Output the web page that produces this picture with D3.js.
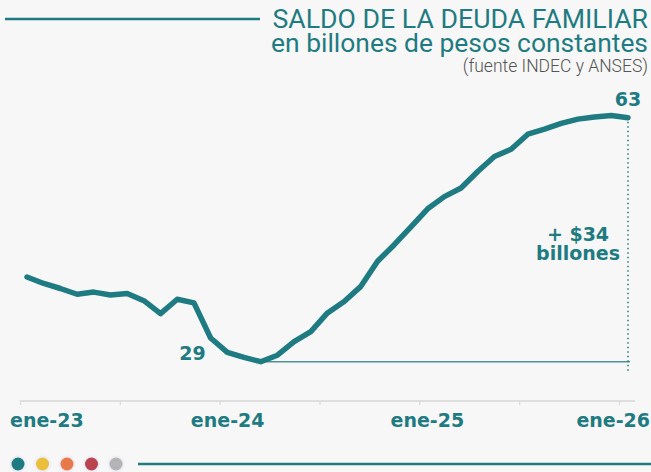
<!DOCTYPE html>
<html>
<head>
<meta charset="utf-8">
<script src="https://cdn.jsdelivr.net/npm/d3@7"></script>
<style>
  html, body { margin: 0; padding: 0; background: #f7f7f7; }
  svg { display: block; }
</style>
</head>
<body>
<div id="chart"></div>
<script>
// months ene-23 .. ene-26
const meses = [
  "2023-01","2023-02","2023-03","2023-04","2023-05","2023-06","2023-07","2023-08","2023-09","2023-10","2023-11","2023-12",
  "2024-01","2024-02","2024-03","2024-04","2024-05","2024-06","2024-07","2024-08","2024-09","2024-10","2024-11","2024-12",
  "2025-01","2025-02","2025-03","2025-04","2025-05","2025-06","2025-07","2025-08","2025-09","2025-10","2025-11","2025-12",
  "2026-01"
];
// saldo de la deuda, billones de pesos constantes
const deuda = [
  40.8, 39.9, 39.2, 38.4, 38.7, 38.3, 38.5, 37.5, 35.7, 37.7, 37.2, 32.3,
  30.3, 29.6, 29.0, 29.9, 31.8, 33.2, 35.8, 37.4, 39.5, 43.0, 45.3, 47.8,
  50.3, 52.0, 53.2, 55.5, 57.6, 58.6, 60.7, 61.4, 62.2, 62.8, 63.1, 63.3,
  63.0
];
const tickMeses = ["2023-01","2023-07","2024-01","2024-07","2025-01","2025-07","2026-01"];
const tickLabels = {"2023-01": "ene-23", "2024-01": "ene-24", "2025-01": "ene-25", "2026-01": "ene-26"};
const paleta = ["#1f7b82", "#e9bf3b", "#e8794b", "#b9444f", "#b4b4b4"];

const width = 651, height = 472;
const teal = "#1f7b82";
const boldFont = "'DejaVu Sans', sans-serif";
const titleFont = "Roboto, 'Noto Sans', sans-serif";

const data = meses.map((m, i) => ({ mes: m, valor: deuda[i] }));

const svg = d3.select("#chart").append("svg")
  .attr("width", width)
  .attr("height", height);

svg.append("rect").attr("width", width).attr("height", height).attr("fill", "#f7f7f7");

const x = d3.scalePoint().domain(meses).range([27, 628]);
const xAxisScale = d3.scalePoint().domain(meses).range([20, 619]);
const y = d3.scaleLinear().domain([29, 63]).range([361.7, 117.7]);

// header
svg.append("line")
  .attr("x1", 5).attr("x2", 260)
  .attr("y1", 19).attr("y2", 19)
  .attr("stroke", teal).attr("stroke-width", 2.5);

svg.append("text")
  .attr("x", 648).attr("y", 28)
  .attr("text-anchor", "end")
  .attr("font-family", titleFont)
  .attr("font-size", 26.7)
  .attr("fill", teal)
  .text("SALDO DE LA DEUDA FAMILIAR");

svg.append("text")
  .attr("x", 648).attr("y", 52)
  .attr("text-anchor", "end")
  .attr("font-family", titleFont)
  .attr("font-size", 26.4)
  .attr("fill", teal)
  .text("en billones de pesos constantes");

svg.append("text")
  .attr("x", 648).attr("y", 72)
  .attr("text-anchor", "end")
  .attr("font-family", titleFont)
  .attr("font-weight", 300)
  .attr("font-size", 17.5)
  .attr("fill", "#555")
  .text("(fuente INDEC y ANSES)");

// x axis
const axisY = 401;
const axis = svg.append("g")
  .attr("transform", "translate(0," + axisY + ")")
  .call(d3.axisBottom(xAxisScale).tickValues(tickMeses).tickSize(4).tickFormat(""));
axis.select(".domain").remove();
axis.selectAll(".tick line").attr("stroke", "#d9d9d9").attr("stroke-width", 1.2);
axis.append("line")
  .attr("x1", xAxisScale(meses[0])).attr("x2", 635)
  .attr("stroke", "#dedede").attr("stroke-width", 2);

const labels = svg.append("g");
tickMeses.filter(m => tickLabels[m]).forEach(m => {
  const t = labels.append("text")
    .attr("y", 427)
    .attr("font-family", boldFont)
    .attr("font-weight", "bold")
    .attr("font-size", 19)
    .attr("fill", teal)
    .text(tickLabels[m]);
  const w = t.node().getComputedTextLength();
  let lx = xAxisScale(m) + 8 - w / 2;
  lx = Math.max(10, Math.min(650 - w, lx));
  t.attr("x", lx);
});

// reference lines
const minD = data.reduce((a, b) => b.valor < a.valor ? b : a);
const last = data[data.length - 1];

svg.append("line")
  .attr("x1", x(minD.mes)).attr("x2", x(last.mes) + 2)
  .attr("y1", y(minD.valor)).attr("y2", y(minD.valor))
  .attr("stroke", "#4f9298").attr("stroke-width", 1.5);

svg.append("line")
  .attr("x1", x(last.mes)).attr("x2", x(last.mes))
  .attr("y1", y(last.valor) + 4).attr("y2", y(minD.valor) + 12)
  .attr("stroke", teal).attr("stroke-width", 1.5)
  .attr("stroke-dasharray", "1.5,3");

// line
svg.append("path")
  .datum(data)
  .attr("fill", "none")
  .attr("stroke", teal)
  .attr("stroke-width", 5.5)
  .attr("stroke-linejoin", "round")
  .attr("stroke-linecap", "round")
  .attr("d", d3.line()
    .x(d => x(d.mes))
    .y(d => y(d.valor)));

// annotations
const ann = (txt, tx, ty, anchor) => svg.append("text")
  .attr("x", tx).attr("y", ty)
  .attr("text-anchor", anchor)
  .attr("font-family", boldFont)
  .attr("font-weight", "bold")
  .attr("font-size", 19)
  .attr("fill", teal)
  .text(txt);

ann(d3.format(".0f")(minD.valor), x(minD.mes) - 55, y(minD.valor) - 2, "end");
ann(d3.format(".0f")(last.valor), x(last.mes), y(last.valor) - 12, "middle");
ann("+ $" + d3.format(".0f")(last.valor - minD.valor), x(last.mes) - 50, 241, "middle");
ann("billones", x(last.mes) - 50, 260, "middle");

// footer
const foot = svg.append("g");
foot.selectAll("circle.halo")
  .data(paleta).enter().append("circle")
  .attr("class", "halo")
  .attr("cx", (d, i) => 18 + i * 24.5).attr("cy", 464)
  .attr("r", 8.5).attr("fill", "#efeef6");
foot.selectAll("circle.dot")
  .data(paleta).enter().append("circle")
  .attr("class", "dot")
  .attr("cx", (d, i) => 18 + i * 24.5).attr("cy", 464)
  .attr("r", 6.5).attr("fill", d => d);
foot.append("line")
  .attr("x1", 138).attr("x2", width)
  .attr("y1", 464).attr("y2", 464)
  .attr("stroke", teal).attr("stroke-width", 2.5);
</script>
</body>
</html>
